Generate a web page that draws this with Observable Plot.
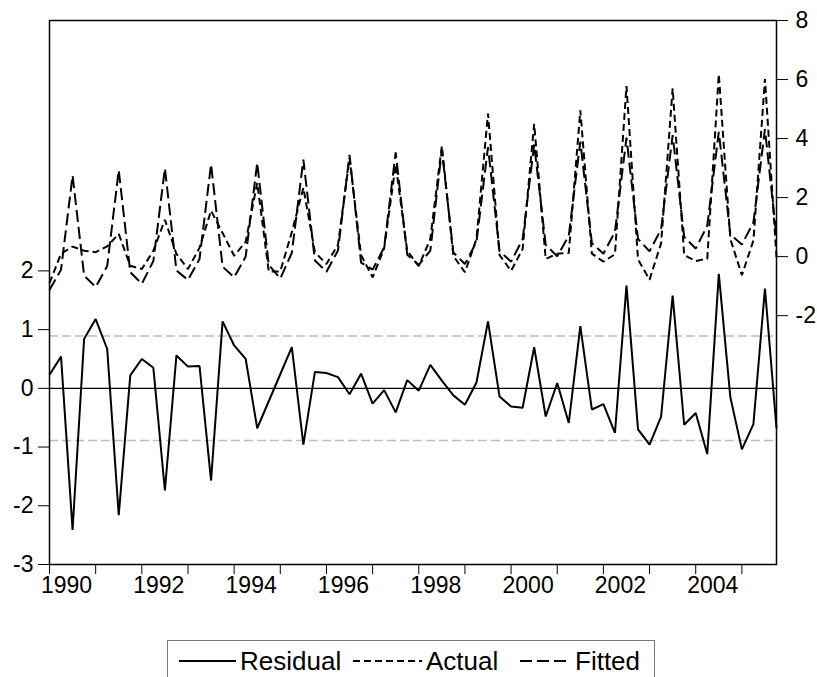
<!DOCTYPE html>
<html>
<head>
<meta charset="utf-8">
<script src="https://cdn.jsdelivr.net/npm/d3@7"></script>
<script src="https://cdn.jsdelivr.net/npm/@observablehq/plot@0.6"></script>
<style>
  html, body { margin: 0; padding: 0; background: #fff; }
  #wrap { position: relative; width: 817px; height: 677px; overflow: hidden; font-family: "Liberation Sans", Arial, sans-serif; }
  #legend { position: absolute; left: 167px; top: 640px; width: 488px; height: 50px; border: 1px solid #777; box-sizing: border-box; background: #fff; }
  #legend .sample, #legend .label { position: absolute; top: 0; height: 40px; display: flex; align-items: center; color: #000; }
  #legend .label { font-size: 26px; }
  #legend svg { display: block; }
</style>
</head>
<body>
<div id="wrap">
  <div id="chart"></div>
  <div id="legend"></div>
</div>
<script>
// ---- data (quarterly, 1990Q1 - 2005Q4) ----
const startYear = 1990;
const residual = [
  0.23, 0.54, -2.41, 0.84,   1.18, 0.67, -2.16, 0.22,
  0.50, 0.35, -1.74, 0.56,   0.37, 0.38, -1.57, 1.14,
  0.73, 0.50, -0.68, -0.22,  0.24, 0.70, -0.96, 0.28,
  0.26, 0.19, -0.10, 0.25,  -0.26, -0.03, -0.41, 0.14,
 -0.04, 0.40, 0.13, -0.12,  -0.28, 0.10, 1.14, -0.14,
 -0.31, -0.33, 0.70, -0.48,  0.09, -0.59, 1.06, -0.36,
 -0.27, -0.76, 1.75, -0.70, -0.96, -0.48, 1.58, -0.62,
 -0.42, -1.12, 1.95, -0.15, -1.04, -0.61, 1.70, -0.68
];
const actual = [
 -0.90, 0.10, 0.34, 0.20,   0.15, 0.35, 0.77, -0.31,
 -0.42, 0.20, 1.25, 0.09,  -0.42, 0.30, 1.56, 0.80,
  0.03, 0.50, 2.50, -0.50, -0.50, 0.83, 2.33, 0.15,
 -0.25, 0.40, 3.35, 0.05,  -0.70, 0.28, 3.12, 0.20,
 -0.32, 0.60, 3.75, 0.02,  -0.53, 0.60, 4.85, 0.05,
 -0.48, 0.26, 4.50, -0.08,  0.10, 0.12, 4.96, 0.10,
 -0.17, 0.08, 5.78, -0.10, -0.78, 0.45, 5.70, 0.05,
 -0.15, -0.07, 6.18, 0.60, -0.63, 0.55, 6.02, -0.02
];
const fitted = [
 -1.13, -0.44, 2.75, -0.64, -1.03, -0.32, 2.93, -0.53,
 -0.92, -0.15, 2.99, -0.47, -0.79, -0.08, 3.13, -0.34,
 -0.70, 0.00, 3.18, -0.28,  -0.74, 0.13, 3.29, -0.13,
 -0.51, 0.21, 3.45, -0.20,  -0.44, 0.31, 3.53, 0.06,
 -0.28, 0.20, 3.62, 0.14,   -0.25, 0.50, 3.71, 0.19,
 -0.17, 0.59, 3.80, 0.40,    0.01, 0.71, 3.90, 0.46,
  0.10, 0.84, 4.03, 0.60,    0.18, 0.93, 4.12, 0.67,
  0.27, 1.05, 4.23, 0.75,    0.41, 1.16, 4.32, 0.66
];
const yearTicks = [1990,1991,1992,1993,1994,1995,1996,1997,1998,1999,2000,2001,2002,2003,2004,2005];
const yearLabels = ["1990","1992","1994","1996","1998","2000","2002","2004"];
const leftTicks = [-3, -2, -1, 0, 1, 2];
const rightTicks = [-2, 0, 2, 4, 6, 8];
const seBand = 0.89;
const leftDomain = [-3, 6.264];
const rightDomain = [-10.43, 8];

// ---- dual-axis mapping (right-axis values expressed in left-axis units) ----
const k = (leftDomain[1] - leftDomain[0]) / (rightDomain[1] - rightDomain[0]);
const toLeft = v => leftDomain[0] + (v - rightDomain[0]) * k;
const fromLeft = r => rightDomain[0] + (r - leftDomain[0]) / k;

const rows = residual.map((r, i) => ({
  t: startYear + Math.floor(i / 4) + (i % 4) / 4,
  residual: r,
  actual: toLeft(actual[i]),
  fitted: toLeft(fitted[i])
}));

const lineOpts = {x: "t", stroke: "#000", strokeWidth: 2, strokeLinecap: "butt", strokeLinejoin: "miter"};

const chart = Plot.plot({
  width: 817,
  height: 636,
  marginLeft: 49,
  marginRight: 41,
  marginTop: 20,
  marginBottom: 72,
  style: {fontFamily: "'Liberation Sans', Arial, sans-serif", fontSize: "23px", color: "#000", background: "#fff", overflow: "visible"},
  x: {domain: [1990, 2005.75]},
  y: {domain: leftDomain},
  marks: [
    Plot.ruleY([seBand, -seBand], {stroke: "#bdbdbd", strokeWidth: 1.5, strokeDasharray: "9,4"}),
    Plot.ruleY([0], {stroke: "#000", strokeWidth: 1.2}),
    Plot.lineY(rows, {...lineOpts, y: "residual"}),
    Plot.lineY(rows, {...lineOpts, y: "actual", strokeDasharray: "7,4"}),
    Plot.lineY(rows, {...lineOpts, y: "fitted", strokeDasharray: "12,5"}),
    Plot.frame({stroke: "#000", strokeWidth: 1.5}),
    Plot.axisY(leftTicks, {anchor: "left", tickSize: 11, tickPadding: 5, label: null, tickFormat: d => String(d)}),
    Plot.axisY(rightTicks.map(toLeft), {anchor: "right", tickSize: 11, tickPadding: 8, label: null, tickFormat: r => String(Math.round(fromLeft(r)))}),
    Plot.axisX(yearTicks, {anchor: "bottom", tickSize: 10, tickFormat: () => "", label: null}),
    Plot.axisX(yearLabels.map(Number), {anchor: "bottom", tickSize: 0, tickPadding: 12, dx: 17, label: null, tickFormat: d => String(d)})
  ]
});
document.getElementById("chart").appendChild(chart);

// ---- legend ----
const legendItems = [
  {name: "Residual", dash: null, sampleLeft: 11, sampleWidth: 57, textLeft: 72},
  {name: "Actual", dash: "7,4", sampleLeft: 185, sampleWidth: 69, textLeft: 258},
  {name: "Fitted", dash: "12,5", sampleLeft: 352, sampleWidth: 51, textLeft: 407}
];
const legend = document.getElementById("legend");
const ns = "http://www.w3.org/2000/svg";
for (const it of legendItems) {
  const sd = document.createElement("div");
  sd.className = "sample";
  sd.style.left = it.sampleLeft + "px";
  const s = document.createElementNS(ns, "svg");
  s.setAttribute("width", it.sampleWidth); s.setAttribute("height", "10");
  const l = document.createElementNS(ns, "line");
  l.setAttribute("x1", "0"); l.setAttribute("x2", it.sampleWidth);
  l.setAttribute("y1", "5"); l.setAttribute("y2", "5");
  l.setAttribute("stroke", "#000"); l.setAttribute("stroke-width", "2");
  if (it.dash) l.setAttribute("stroke-dasharray", it.dash);
  s.appendChild(l);
  sd.appendChild(s);
  const td = document.createElement("div");
  td.className = "label";
  td.style.left = it.textLeft + "px";
  td.textContent = it.name;
  legend.appendChild(sd);
  legend.appendChild(td);
}
</script>
</body>
</html>
